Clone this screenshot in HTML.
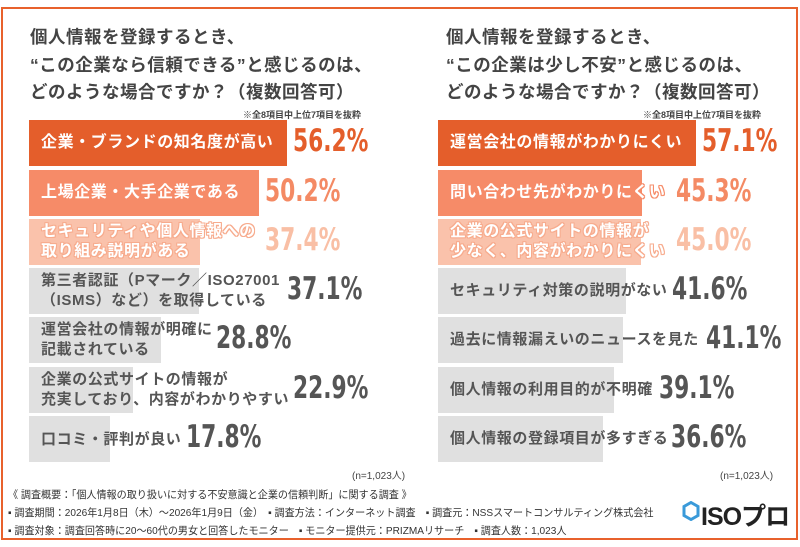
<!DOCTYPE html>
<html><head><meta charset="utf-8"><style>
*{margin:0;padding:0;box-sizing:border-box}
body{width:800px;height:547px;background:#fff;position:relative;overflow:hidden;font-family:"Liberation Sans","Noto Sans CJK JP",sans-serif}
.frame{position:absolute;left:1px;top:7px;width:797px;height:533px;border:2px solid #e8612c}
.t{position:absolute;font-weight:bold;color:#444;font-size:17.5px;line-height:27.5px;letter-spacing:0.5px}
.note{position:absolute;font-size:9px;color:#444;font-weight:bold}
.bar{position:absolute;height:46px}
.lb{position:absolute;font-weight:bold;font-size:16px;line-height:20px;letter-spacing:0.6px;white-space:nowrap}
.o2{text-shadow:-1px -1px 0 #f68b68,1px -1px 0 #f68b68,-1px 1px 0 #f68b68,1px 1px 0 #f68b68,0 1px 0 #f68b68,0 -1px 0 #f68b68,1px 0 0 #f68b68,-1px 0 0 #f68b68}
.o3{text-shadow:-1px -1px 0 #f7ab8d,1px -1px 0 #f7ab8d,-1px 1px 0 #f7ab8d,1px 1px 0 #f7ab8d,0 1px 0 #f7ab8d,0 -1px 0 #f7ab8d,1px 0 0 #f7ab8d,-1px 0 0 #f7ab8d}
.v{position:absolute;font-weight:bold;font-size:31px;font-family:"DejaVu Sans Condensed","DejaVu Sans",sans-serif;transform:scaleX(0.78);transform-origin:left}
.ft{position:absolute;left:8px;font-size:10.5px;color:#333;white-space:nowrap;transform:scaleX(0.96);transform-origin:left}
</style></head><body>
<div class="frame"></div>
<div class="t" style="left:30px;top:24px">個人情報を登録するとき、<br>“この企業なら信頼できる”と感じるのは、<br>どのような場合ですか？（複数回答可）</div>
<div class="t" style="left:446px;top:24px">個人情報を登録するとき、<br>“この企業は少し不安”と感じるのは、<br>どのような場合ですか？（複数回答可）</div>
<div class="note" style="left:243px;top:108px">※全8項目中上位7項目を抜粋</div>
<div class="note" style="left:643px;top:108px">※全8項目中上位7項目を抜粋</div>

<div class="bar" style="left:29px;top:120px;width:258px;background:#e45e2b"></div>
<div class="bar" style="left:29px;top:170px;width:230px;background:#f68b68"></div>
<div class="bar" style="left:29px;top:219px;width:171px;background:#fac2ab"></div>
<div class="bar" style="left:29px;top:268px;width:170px;background:#e0e0e0"></div>
<div class="bar" style="left:29px;top:317px;width:132px;background:#e0e0e0"></div>
<div class="bar" style="left:29px;top:367px;width:104px;background:#e0e0e0"></div>
<div class="bar" style="left:29px;top:416px;width:81px;background:#e0e0e0"></div>
<div class="lb" style="left:41px;top:133px;color:#fff">企業・ブランドの知名度が高い</div>
<div class="lb o2" style="left:41px;top:183px;color:#fff">上場企業・大手企業である</div>
<div class="lb o3" style="left:41px;top:222px;color:#fff">セキュリティや個人情報への<br>取り組み説明がある</div>
<div class="lb" style="left:41px;top:271px;color:#555;font-size:15px">第三者認証（Pマーク／ISO27001<br>（ISMS）など）を取得している</div>
<div class="lb" style="left:41px;top:320px;color:#555;font-size:15px">運営会社の情報が明確に<br>記載されている</div>
<div class="lb" style="left:41px;top:370px;color:#555;font-size:15px">企業の公式サイトの情報が<br>充実しており、内容がわかりやすい</div>
<div class="lb" style="left:41px;top:430px;color:#555;font-size:15px">口コミ・評判が良い</div>
<div class="v" style="left:293px;top:123px;color:#e45e2b">56.2%</div>
<div class="v" style="left:265px;top:173px;color:#f48a64">50.2%</div>
<div class="v" style="left:265px;top:222px;color:#f9bfa5">37.4%</div>
<div class="v" style="left:287px;top:271px;color:#555">37.1%</div>
<div class="v" style="left:216px;top:320px;color:#555">28.8%</div>
<div class="v" style="left:293px;top:370px;color:#555">22.9%</div>
<div class="v" style="left:186px;top:419px;color:#555">17.8%</div>

<div class="bar" style="left:438px;top:120px;width:258px;background:#e45e2b"></div>
<div class="bar" style="left:438px;top:170px;width:204px;background:#f68b68"></div>
<div class="bar" style="left:438px;top:219px;width:203px;background:#fac2ab"></div>
<div class="bar" style="left:438px;top:268px;width:188px;background:#e0e0e0"></div>
<div class="bar" style="left:438px;top:317px;width:185px;background:#e0e0e0"></div>
<div class="bar" style="left:438px;top:367px;width:176px;background:#e0e0e0"></div>
<div class="bar" style="left:438px;top:416px;width:165px;background:#e0e0e0"></div>
<div class="lb" style="left:450px;top:133px;color:#fff">運営会社の情報がわかりにくい</div>
<div class="lb o2" style="left:450px;top:183px;color:#fff">問い合わせ先がわかりにくい</div>
<div class="lb o3" style="left:450px;top:222px;color:#fff">企業の公式サイトの情報が<br>少なく、内容がわかりにくい</div>
<div class="lb" style="left:450px;top:281px;color:#555;font-size:15px">セキュリティ対策の説明がない</div>
<div class="lb" style="left:450px;top:330px;color:#555;font-size:15px">過去に情報漏えいのニュースを見た</div>
<div class="lb" style="left:450px;top:380px;color:#555;font-size:15px">個人情報の利用目的が不明確</div>
<div class="lb" style="left:450px;top:429px;color:#555;font-size:15px">個人情報の登録項目が多すぎる</div>
<div class="v" style="left:702px;top:123px;color:#e45e2b">57.1%</div>
<div class="v" style="left:676px;top:173px;color:#f48a64">45.3%</div>
<div class="v" style="left:676px;top:222px;color:#f9bfa5">45.0%</div>
<div class="v" style="left:672px;top:271px;color:#555">41.6%</div>
<div class="v" style="left:706px;top:320px;color:#555">41.1%</div>
<div class="v" style="left:659px;top:370px;color:#555">39.1%</div>
<div class="v" style="left:671px;top:419px;color:#555">36.6%</div>

<div class="note" style="left:352px;top:467px;font-weight:normal;font-size:10px">(n=1,023人)</div>
<div class="note" style="left:720px;top:467px;font-weight:normal;font-size:10px">(n=1,023人)</div>

<div class="ft" style="top:487px">《 調査概要：「個人情報の取り扱いに対する不安意識と企業の信頼判断」に関する調査 》</div>
<div class="ft" style="top:505px">▪ 調査期間：2026年1月8日（木）～2026年1月9日（金）　▪ 調査方法：インターネット調査　▪ 調査元：NSSスマートコンサルティング株式会社</div>
<div class="ft" style="top:523px">▪ 調査対象：調査回答時に20～60代の男女と回答したモニター　▪ モニター提供元：PRIZMAリサーチ　▪ 調査人数：1,023人</div>

<svg style="position:absolute;left:682px;top:501px" width="18" height="20" viewBox="0 0 18 20"><polygon points="9,1.5 16,5.5 16,14.5 9,18.5 2,14.5 2,5.5" fill="none" stroke="#3a9ad9" stroke-width="3"/></svg>
<div style="position:absolute;left:701px;top:497px;font-size:25px;font-weight:bold;color:#222;letter-spacing:-1px">ISOプロ</div>
</body></html>
